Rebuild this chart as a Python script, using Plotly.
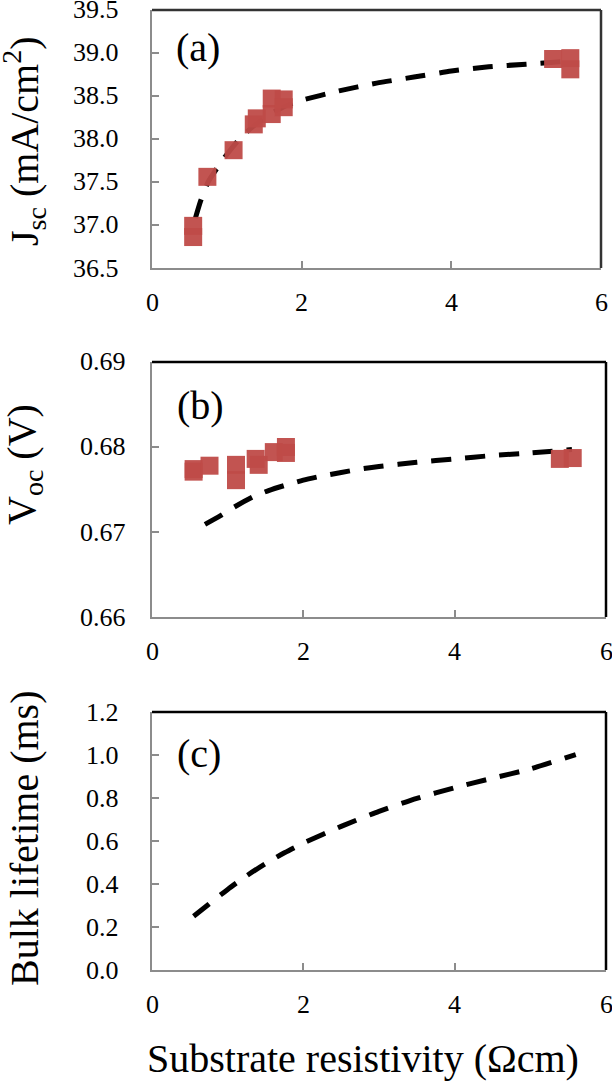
import plotly.graph_objects as go

# measured points (resistivity in Ohm cm)
rho_a = [0.55, 0.55, 0.74, 1.09, 1.36, 1.40, 1.60, 1.60, 1.76, 1.76, 5.36, 5.59, 5.59]
jsc = [36.99, 36.86, 37.56, 37.87, 38.17, 38.24, 38.47, 38.29, 38.46, 38.37, 38.93, 38.94, 38.81]

rho_b = [0.55, 0.55, 0.76, 1.11, 1.11, 1.37, 1.41, 1.61, 1.77, 1.77, 5.39, 5.56]
voc = [0.6774, 0.6771, 0.6778, 0.6779, 0.6761, 0.6786, 0.6779, 0.6794, 0.6800, 0.6793, 0.6786, 0.6787]

# simulated curves
rho_fit_a = [0.58, 0.65, 0.75, 0.9, 1.0, 1.2, 1.4, 1.6, 1.8, 2.0, 2.5, 3.0, 3.5, 4.0, 4.5, 5.0, 5.5]
jsc_fit = [37.08, 37.28, 37.5, 37.7, 37.82, 38.03, 38.18, 38.3, 38.39, 38.45, 38.56, 38.65,
           38.72, 38.79, 38.84, 38.87, 38.9]

rho_fit_b = [0.7, 0.9, 1.1, 1.35, 1.55, 1.8, 2.0, 2.25, 2.5, 2.75, 3.0, 3.5, 4.0, 4.5, 5.0, 5.55]
voc_fit = [0.6709, 0.6719, 0.6730, 0.6742, 0.6749, 0.6756, 0.6761, 0.6766, 0.6770, 0.6774,
           0.6777, 0.6782, 0.6786, 0.6790, 0.6793, 0.6797]

rho_fit_c = [0.55, 0.75, 1.0, 1.25, 1.5, 1.75, 2.0, 2.5, 3.0, 3.5, 4.0, 4.5, 5.0, 5.6]
tau_fit = [0.25, 0.306, 0.375, 0.438, 0.495, 0.545, 0.59, 0.668, 0.738, 0.798, 0.848, 0.892,
           0.935, 1.002]

# tick labels
x_ticks = [0, 2, 4, 6]
jsc_ticks = [36.5, 37.0, 37.5, 38.0, 38.5, 39.0, 39.5]
voc_ticks = [0.66, 0.67, 0.68, 0.69]
tau_ticks = [0.0, 0.2, 0.4, 0.6, 0.8, 1.0, 1.2]

FONT = "'Liberation Serif', 'Times New Roman', serif"
RED = "#BF4B48"
GRAY = "#8c8c8c"
dash_line = dict(color="black", width=5, dash="20px,14px", shape="spline", smoothing=0.6)
sq = dict(symbol="square", size=18, color=RED, opacity=0.95)

fig = go.Figure()

fig.add_trace(go.Scatter(x=rho_fit_a, y=jsc_fit, mode="lines", line=dash_line, xaxis="x", yaxis="y"))
fig.add_trace(go.Scatter(x=rho_a, y=jsc, mode="markers", marker=sq, xaxis="x", yaxis="y"))
fig.add_trace(go.Scatter(x=rho_fit_b, y=voc_fit, mode="lines", line=dash_line, xaxis="x2", yaxis="y2"))
fig.add_trace(go.Scatter(x=rho_b, y=voc, mode="markers", marker=sq, xaxis="x2", yaxis="y2"))
fig.add_trace(go.Scatter(x=rho_fit_c, y=tau_fit, mode="lines", line=dash_line, xaxis="x3", yaxis="y3"))

W, H = 612, 1081


def xdom(left, right):
    return [left / W, right / W]


def ydom(top, bottom):
    return [1 - bottom / H, 1 - top / H]


common_x = dict(range=[0, 6], tickvals=x_ticks, showgrid=False, zeroline=False,
                showline=True, linecolor=GRAY, linewidth=2, ticks="inside", ticklen=7,
                tickcolor=GRAY, tickwidth=1.5, automargin=False, showticklabels=False)
common_y = dict(showgrid=False, zeroline=False, showline=True, linecolor=GRAY, linewidth=2,
                ticks="inside", ticklen=7, tickcolor=GRAY, tickwidth=1.5, automargin=False,
                showticklabels=False)

fig.update_layout(
    template="none",
    width=W, height=H,
    margin=dict(l=0, r=0, t=0, b=0, autoexpand=False),
    paper_bgcolor="white", plot_bgcolor="white",
    showlegend=False,
    font=dict(family=FONT, color="black"),
    xaxis=dict(common_x, domain=xdom(152, 601), anchor="y"),
    yaxis=dict(common_y, domain=ydom(10, 268), anchor="x", range=[36.5, 39.5], tickvals=jsc_ticks),
    xaxis2=dict(common_x, domain=xdom(152, 606), anchor="y2"),
    yaxis2=dict(common_y, domain=ydom(362, 617), anchor="x2", range=[0.66, 0.69], tickvals=voc_ticks),
    xaxis3=dict(common_x, domain=xdom(152, 606), anchor="y3"),
    yaxis3=dict(common_y, domain=ydom(712, 970), anchor="x3", range=[0, 1.2], tickvals=tau_ticks),
)

tick_font = dict(family=FONT, size=26, color="black")

# tick labels drawn as annotations
for k, ticks, fmt, gap in [("", jsc_ticks, ".1f", 31), ("2", voc_ticks, ".2f", 24),
                           ("3", tau_ticks, ".1f", 31)]:
    for v in ticks:
        fig.add_annotation(text=format(v, fmt), xref=f"x{k} domain", yref=f"y{k}", x=0, y=v,
                           xanchor="right", yanchor="middle", xshift=-gap, showarrow=False,
                           font=tick_font)
    for v in x_ticks:
        fig.add_annotation(text=str(v), xref=f"x{k}", yref=f"y{k} domain", x=v, y=0,
                           xanchor="center", yanchor="middle", yshift=-34, showarrow=False,
                           font=tick_font)

# top and right frame lines
frame_colors = {"": "#333333", "2": "black", "3": "black"}
for k, c in frame_colors.items():
    fig.add_shape(type="line", xref=f"x{k} domain", yref=f"y{k} domain", x0=0, x1=1, y0=1, y1=1,
                  line=dict(color=c, width=2.5))
    fig.add_shape(type="line", xref=f"x{k} domain", yref=f"y{k} domain", x0=1, x1=1, y0=0, y1=1,
                  line=dict(color=c, width=2.5))

# panel labels
labels = [("(a)", "", 0.853), ("(b)", "2", 0.831), ("(c)", "3", 0.841)]
for txt, k, yy in labels:
    fig.add_annotation(text=txt, xref=f"x{k} domain", yref=f"y{k} domain", x=0.05, y=yy,
                       xanchor="left", yanchor="middle", showarrow=False,
                       font=dict(family=FONT, size=40, color="black"))

# y axis titles
ytitles = [("J<sub>sc</sub> (mA/cm<sup>2</sup>)", 141),
           ("V<sub>oc</sub> (V)", 465),
           ("Bulk lifetime (ms)", 838)]
for txt, yc in ytitles:
    fig.add_annotation(text=txt, xref="paper", yref="paper", x=24 / W, y=1 - yc / H,
                       xanchor="center", yanchor="middle", textangle=-90, showarrow=False,
                       font=dict(family=FONT, size=40, color="black"))

fig.add_annotation(text="Substrate resistivity (Ωcm)", xref="paper", yref="paper",
                   x=363 / W, y=1 - 1058 / H, xanchor="center", yanchor="middle",
                   showarrow=False, font=dict(family=FONT, size=40, color="black"))

fig.write_html("out.html", config={"displayModeBar": False},
               post_script="document.body.style.margin='0';document.body.style.overflow='hidden';")
